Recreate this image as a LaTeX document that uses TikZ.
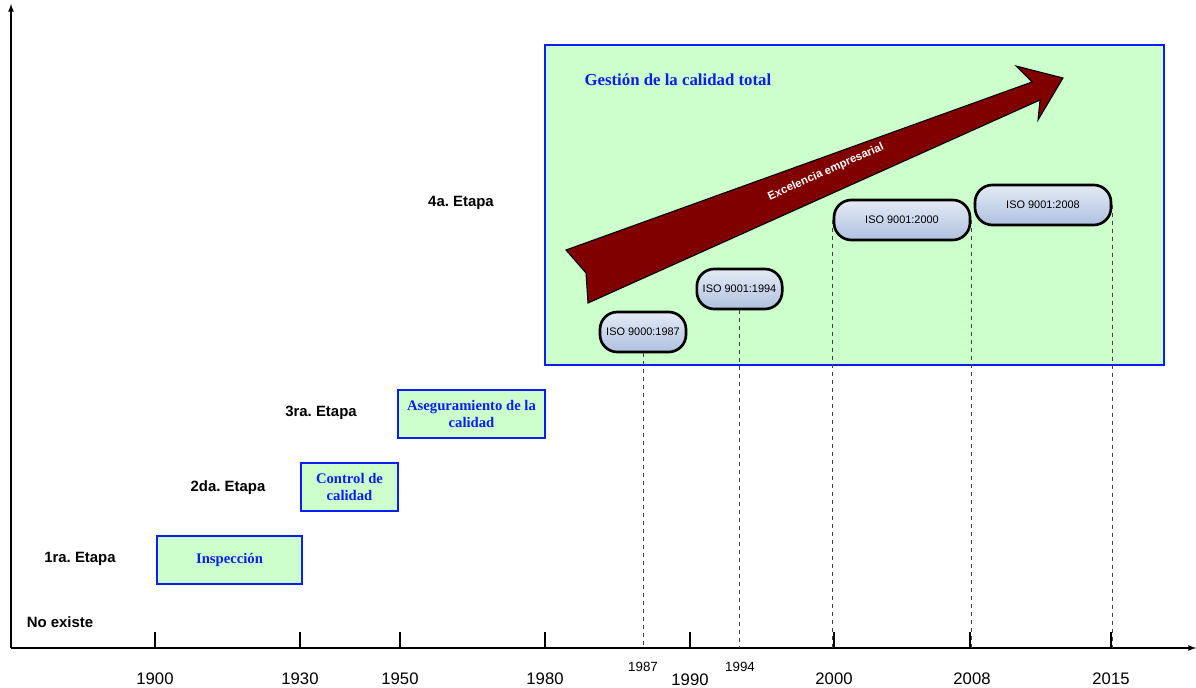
\documentclass[tikz,border=0pt]{standalone}
\usepackage{fontspec}
\setmainfont{Liberation Sans}
\newfontfamily\antiqua{Liberation Serif}
\usepackage{xcolor}
\usetikzlibrary{arrows}
\frenchspacing

\definecolor{verdeclaro}{HTML}{CCFFCC}
\definecolor{azul}{HTML}{0A1EF5}
\definecolor{granate}{HTML}{800000}
\definecolor{isoclaro}{HTML}{E4EAF5}
\definecolor{isooscuro}{HTML}{AFC1DF}

\begin{document}
\begin{tikzpicture}[x=0.75pt,y=-0.75pt,
  etapa/.style={font=\bfseries\fontsize{11.2}{13}\selectfont},
  caja/.style={draw=azul,fill=verdeclaro,line width=0.8pt,inner sep=0pt,align=center,text=azul,font=\antiqua\bfseries\fontsize{11}{13}\selectfont},
  iso/.style={draw=black,line width=2pt,rounded corners=13pt,top color=isoclaro,bottom color=isooscuro,inner sep=0pt,minimum height=30pt,font=\fontsize{8.2}{10}\selectfont},
  anio/.style={font=\fontsize{12.5}{14}\selectfont},
  guia/.style={dashed,black!75,line width=0.6pt}]

\useasboundingbox (0,0) rectangle (1196,688);

% ejes
\coordinate (o) at (11,648);
\draw[line width=1pt,-latex] (o) -- (11,4);
\draw[line width=1pt,-latex] (o) -- (1196,648);

\draw[line width=1.2pt] (155,632) -- (155,648);
\draw[line width=1.2pt] (300,632) -- (300,648);
\draw[line width=1.2pt] (400,632) -- (400,648);
\draw[line width=1.2pt] (545,632) -- (545,648);
\draw[line width=1.2pt] (690,632) -- (690,648);
\draw[line width=1.2pt] (834,632) -- (834,648);
\draw[line width=1.2pt] (970,632) -- (970,648);
\draw[line width=1.2pt] (1111,632) -- (1111,648);

\node[anio] (a1900) at (155,679) {1900};
\node[anio] (a1930) at (300,679) {1930};
\node[anio] (a1950) at (400,679) {1950};
\node[anio] (a1980) at (545,679) {1980};
\node[anio] (a1990) at (690,680) {1990};
\node[anio] (a2000) at (834,679) {2000};
\node[anio] (a2008) at (972,679) {2008};
\node[anio] (a2015) at (1111,679) {2015};
\node[font=\fontsize{10}{12}\selectfont] (a1987) at (643,667) {1987};
\node[font=\fontsize{10}{12}\selectfont] (a1994) at (740,667) {1994};

% etapas
\node[etapa] (noexiste) at (60,622) {No existe};
\node[etapa] (etapa1) at (80,559) {1ra. Etapa};
\node[etapa] (etapa2) at (228,488) {2da. Etapa};
\node[etapa] (etapa3) at (321,413) {3ra. Etapa};
\node[etapa] (etapa4) at (461,203) {4a. Etapa};

\node[caja,minimum width=108.75pt,minimum height=36pt] (inspeccion) at (229.5,560) {Inspección};
\node[caja,minimum width=72.75pt,minimum height=36pt] (control) at (349.5,487) {Control de\\calidad};
\node[caja,minimum width=110.25pt,minimum height=36pt] (aseguramiento) at (471.5,414) {Aseguramiento de la\\calidad};

\node[caja,minimum width=464.25pt,minimum height=240pt] (total) at (854.5,205) {};
\node[caja,draw=none,fill=none,anchor=west,font=\antiqua\bfseries\fontsize{12.6}{14}\selectfont] (gestion) at (584,80) {Gestión de la calidad total};

% flecha
\draw[line width=0.8pt,fill=granate] (566,250) -- (1032,82) -- (1016,66) -- (1063,78) -- (1038,120) -- (1040,100) -- (588,303) -- (586,273) -- cycle;
\node[rotate=24,text=white,font=\bfseries\fontsize{8.5}{10}\selectfont] (excelencia) at (826,172) {Excelencia empresarial};

\node[iso,minimum width=64.5pt] (iso87) at (643,332) {ISO 9000:1987};
\node[iso,minimum width=64pt] (iso94) at (739.5,289) {ISO 9001:1994};
\node[iso,minimum width=102pt] (iso00) at (902,220) {ISO 9001:2000};
\node[iso,minimum width=102pt] (iso08) at (1043,205) {ISO 9001:2008};

\draw[guia] (iso87.south) -- (iso87.south |- o);
\draw[guia] (iso94.south) -- (iso94.south |- o);
\draw[guia] (iso00.west) -- (iso00.west |- o);
\draw[guia] (iso00.east) -- (iso00.east |- o);
\draw[guia] (iso08.east) -- (iso08.east |- o);
\end{tikzpicture}
\end{document}
